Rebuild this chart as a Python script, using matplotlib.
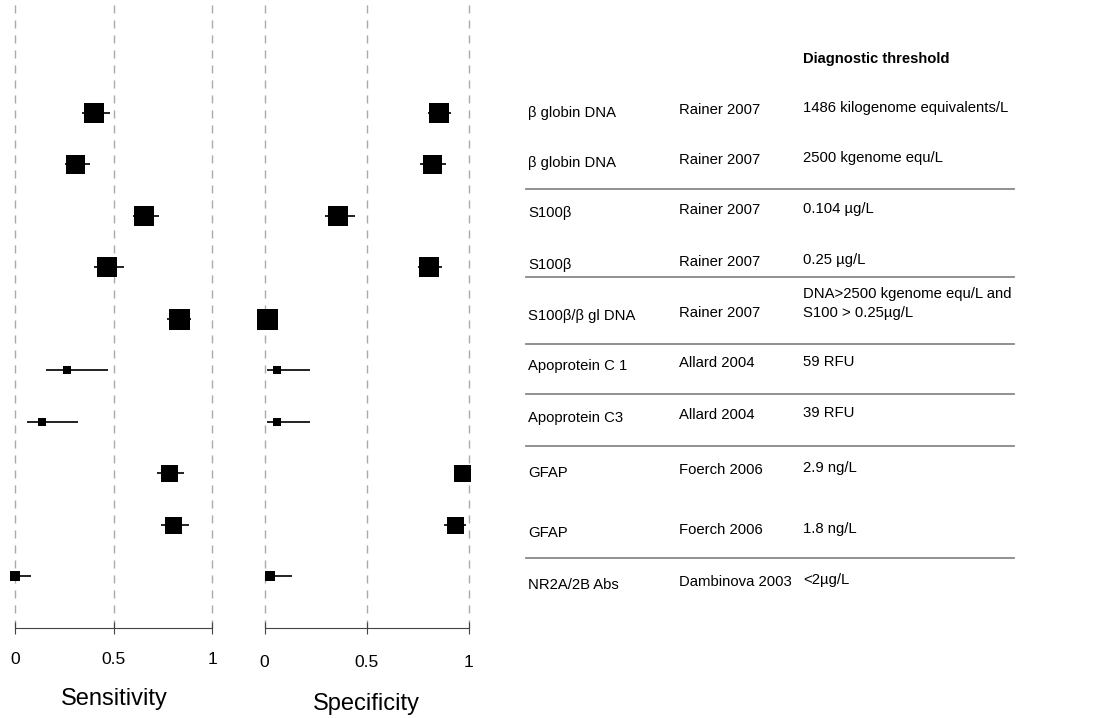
import matplotlib
matplotlib.use("Agg")
import matplotlib.pyplot as plt

plt.rcParams['font.family'] = ['Liberation Sans', 'DejaVu Sans']

# forest plot data, one entry per study row (top to bottom)
sens = [0.40, 0.30, 0.65, 0.465, 0.83, 0.263, 0.136, 0.78, 0.80, 0.0]
sens_lo = [0.34, 0.25, 0.595, 0.40, 0.77, 0.153, 0.057, 0.717, 0.74, 0.0]
sens_hi = [0.48, 0.38, 0.73, 0.55, 0.89, 0.471, 0.319, 0.857, 0.882, 0.077]
spec = [0.855, 0.823, 0.362, 0.806, 0.014, 0.06, 0.06, 0.97, 0.935, 0.028]
spec_lo = [0.80, 0.76, 0.298, 0.751, 0.0, 0.014, 0.014, 0.93, 0.88, 0.0]
spec_hi = [0.913, 0.888, 0.442, 0.872, 0.03, 0.222, 0.222, 0.99, 0.986, 0.133]
weight = [20, 19, 20, 20, 21, 7.5, 7.5, 17, 17, 10.5]  # box side in px

markers = ["\u03b2 globin DNA", "\u03b2 globin DNA", "S100\u03b2", "S100\u03b2",
           "S100\u03b2/\u03b2 gl DNA", "Apoprotein C 1", "Apoprotein C3",
           "GFAP", "GFAP", "NR2A/2B Abs"]
studies = ["Rainer 2007", "Rainer 2007", "Rainer 2007", "Rainer 2007",
           "Rainer 2007", "Allard 2004", "Allard 2004", "Foerch 2006",
           "Foerch 2006", "Dambinova 2003"]
thresholds = ["1486 kilogenome equivalents/L", "2500 kgenome equ/L",
              "0.104 \u00b5g/L", "0.25 \u00b5g/L",
              "DNA>2500 kgenome equ/L and\nS100 > 0.25\u00b5g/L",
              "59 RFU", "39 RFU", "2.9 ng/L", "1.8 ng/L", "<2\u00b5g/L"]
xticks = [0, 0.5, 1]

W, H = 1094, 718
fig = plt.figure(figsize=(W / 100, H / 100), dpi=100)
rows = list(range(1, len(sens) + 1))
ylim = (11, -1.19)
bottom = (H - 628) / H


def forest(left_px, scale, vals, lo, hi, label, tpad, lpad):
    width = 1.14 * scale
    ax = fig.add_axes([(left_px - 0.07 * scale) / W, bottom, width / W, 1 - bottom])
    ax.set_xlim(-0.07, 1.07)
    ax.set_ylim(*ylim)
    for y, v, a, b, w in zip(rows, vals, lo, hi, weight):
        ax.plot([a, b], [y, y], color='#111111', lw=1.3, solid_capstyle='butt', zorder=3)
        ax.plot(v, y, marker='s', color='black', markersize=w * 0.72, mew=0, zorder=4)
    ax.set_xticks(xticks)
    ax.set_xticklabels(["0", "0.5", "1"], fontsize=12.5)
    ax.set_yticks([])
    ax.grid(axis='x', color='#aaaaaa', lw=1.0, linestyle=(0, (5.8, 5.0)), zorder=1)
    for s in ['left', 'top', 'right']:
        ax.spines[s].set_visible(False)
    ax.spines['bottom'].set_bounds(0, 1)
    ax.spines['bottom'].set_color('#444444')
    ax.tick_params(axis='x', direction='inout', length=8, color='#444444', pad=tpad)
    ax.set_xlabel(label, fontsize=17, labelpad=lpad)
    ax.patch.set_visible(False)
    return ax


forest(15.5, 197, sens, sens_lo, sens_hi, "Sensitivity", 13.5, 15)
forest(264.5, 204, spec, spec_lo, spec_hi, "Specificity", 15.5, 16.5)

# table on the right
tab = fig.add_axes([500 / W, bottom, 594 / W, 1 - bottom])
tab.set_xlim(500, 1094)
tab.set_ylim(*ylim)
tab.axis('off')
row_shift = [0, -0.03, -0.05, -0.05, -0.06, -0.08, -0.08, -0.01, 0.16, 0.16]
for y, m, s, t, d in zip(rows, markers, studies, thresholds, row_shift):
    tab.text(528, y + d, m, fontsize=10.7, va='center', ha='left')
    tab.text(679, y + d - 0.06, s, fontsize=10.7, va='center', ha='left')
    if "\n" in t:
        tab.text(803, y + d - 0.23, t, fontsize=10.7, va='center', ha='left', linespacing=1.45)
    else:
        tab.text(803, y + d - 0.09, t, fontsize=10.7, va='center', ha='left')
tab.text(803, -0.04, "Diagnostic threshold", fontsize=10.6, fontweight='bold', va='center', ha='left')
for yl in [2.474, 4.194, 5.494, 6.456, 7.472, 9.644]:
    tab.plot([526, 1014], [yl, yl], color='#888888', lw=1.3)

fig.savefig("out.png", dpi=100)
